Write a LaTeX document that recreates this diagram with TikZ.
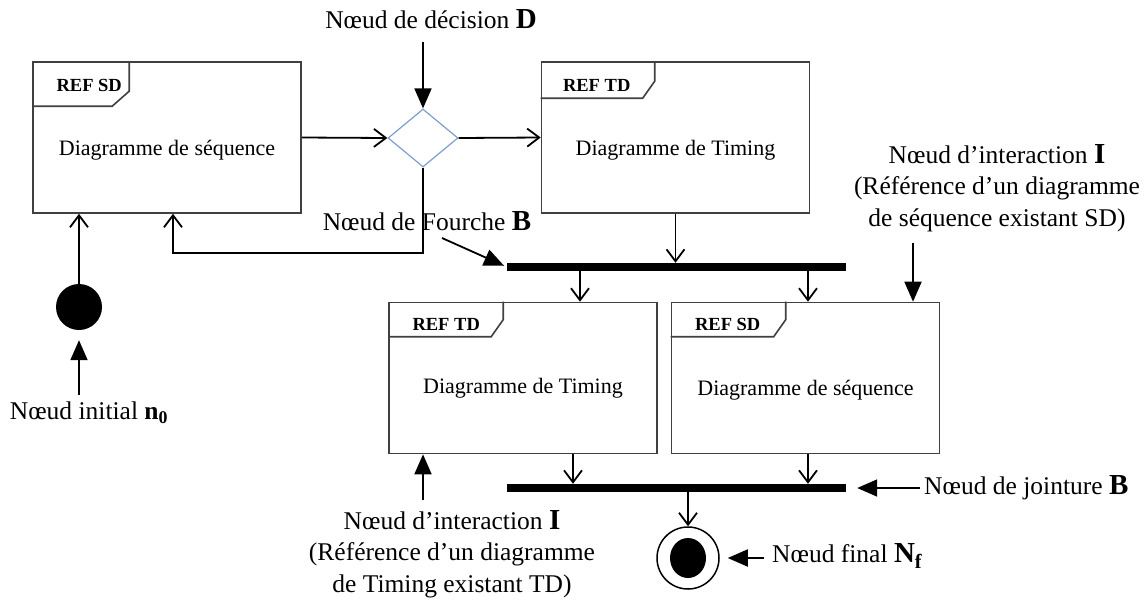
\documentclass[tikz,border=0pt]{standalone}
\usepackage{fontspec}
\setmainfont{Liberation Serif}
\usetikzlibrary{arrows.meta,shapes.geometric,calc}
\definecolor{decblue}{RGB}{125,158,205}
\newcommand\keyletter[1]{{\fontsize{29}{31}\selectfont\bfseries #1}}
\begin{document}
\begin{tikzpicture}[x=1pt,y=-1pt,
  frame/.style={draw=black!75, line width=1.6pt, fill=white, inner sep=0pt,
    minimum width=268pt, minimum height=151pt},
  tabline/.style={draw=black!75, line width=1.6pt},
  boxtext/.style={font=\fontsize{22}{26}\selectfont, inner sep=0pt},
  reftext/.style={font=\fontsize{18.5}{22}\selectfont\bfseries, inner sep=0pt},
  lbl/.style={font=\fontsize{25.5}{31.5}\selectfont, inner sep=0pt, align=center},
  flow/.style={line width=1.8pt, -{Straight Barb[length=12pt,width=18pt,line width=1.8pt]}},
  pointer/.style={line width=1.8pt, -{Triangle[length=20pt,width=17pt]}},
  bar/.style={fill=black, inner sep=0pt, minimum width=339pt, minimum height=8pt},
]
\useasboundingbox (0,0) rectangle (1145,603);

% diagram frames with their REF tabs
\node[frame] (sd1) at (167,137.5) {};
\draw[tabline] ($(sd1.north west)+(0,45)$) -- ++(80,0) -- ++(17,-15) -- ++(0,-30);
\node[reftext] (sd1ref) at ($(sd1.north west)+(57,24)$) {REF SD};
\node[boxtext] (sd1txt) at ($(sd1.center)+(0,12.5)$) {Diagramme de séquence};

\node[frame] (td1) at (675.5,137.5) {};
\draw[tabline] ($(td1.north west)+(0,37)$) -- ++(102,0) -- ++(12,-17) -- ++(0,-20);
\node[reftext] (td1ref) at ($(td1.north west)+(56,24)$) {REF TD};
\node[boxtext] (td1txt) at ($(td1.center)+(0,12.5)$) {Diagramme de Timing};

\node[frame] (td2) at (523,378) {};
\draw[tabline] ($(td2.north west)+(0,35)$) -- ++(103,0) -- ++(12,-17) -- ++(0,-18);
\node[reftext] (td2ref) at ($(td2.north west)+(58,23)$) {REF TD};
\node[boxtext] (td2txt) at ($(td2.center)+(0,10)$) {Diagramme de Timing};

\node[frame] (sd2) at (805.5,378) {};
\draw[tabline] ($(sd2.north west)+(0,35)$) -- ++(103,0) -- ++(12,-17) -- ++(0,-18);
\node[reftext] (sd2ref) at ($(sd2.north west)+(57,23)$) {REF SD};
\node[boxtext] (sd2txt) at ($(sd2.center)+(0,12)$) {Diagramme de séquence};

% control nodes
\node[diamond, draw=decblue, line width=1.2pt, minimum width=70pt, minimum height=58pt,
  inner sep=0pt] (dec) at (423,138) {};
\node[circle, fill=black, minimum size=46pt, inner sep=0pt] (init) at (79,307) {};
\node[circle, draw, line width=1.5pt, minimum size=62pt, inner sep=0pt] (fin) at (688,558) {};
\node[ellipse, fill=black, minimum width=36pt, minimum height=40pt, inner sep=0pt] (finin) at (fin) {};
\node[bar] (fork) at (676.5,267) {};
\node[bar] (join) at (676.5,488) {};

% control flow
\draw[flow] (sd1.east) -- (dec.west);
\draw[flow] (dec.east) -- (td1.west);
\coordinate (back) at (173,253);
\draw[flow] (dec.south) |- (back) -- (back |- sd1.south);
\draw[flow] (init.north) -- (init.north |- sd1.south);
\draw[flow] (td1.south) -- (td1.south |- fork.north);
\coordinate (fa) at (580,0);
\coordinate (fb) at (808,0);
\draw[flow] (fork.south -| fa) -- (td2.north -| fa);
\draw[flow] (fork.south -| fb) -- (sd2.north -| fb);
\coordinate (ja) at (573,0);
\coordinate (jb) at (808,0);
\draw[flow] (td2.south -| ja) -- (join.north -| ja);
\draw[flow] (sd2.south -| jb) -- (join.north -| jb);
\draw[flow] (join.south -| fin) -- (fin.north);

% annotations
\node[lbl] (declab) at (431,19) {Nœud de décision \keyletter{D}};
\node[lbl] (forklab) at (427,221) {Nœud de Fourche \keyletter{B}};
\node[lbl] (ilab1) at (997,188) {Nœud d’interaction \keyletter{I}\\(Référence d’un diagramme\\de séquence existant SD)};
\node[lbl] (ilab2) at (452,554) {Nœud d’interaction \keyletter{I}\\(Référence d’un diagramme\\de Timing existant TD)};
\node[lbl] (initlab) at (89,413) {Nœud initial \textbf{n\textsubscript{0}}};
\node[lbl, anchor=west] (joinlab) at (924,488) {Nœud de jointure \keyletter{B}};
\node[lbl, anchor=west] (finlab) at (772,556) {Nœud final \keyletter{N\textsubscript{f}}};

\coordinate (dtail) at (423,42);
\draw[pointer] (dtail) -- (dec.north);
\coordinate (ftail) at (442,238);
\draw[pointer, shorten >=3pt] (ftail) -- (fork.west);
\coordinate (itail) at (913,243);
\draw[pointer] (itail) -- (itail |- sd2.north);
\coordinate (i2tail) at (423,500);
\draw[pointer] (i2tail) -- (i2tail |- td2.south);
\coordinate (ntail) at (79,395);
\draw[pointer, shorten >=10pt] (ntail) -- (init.south);
\coordinate (jtail) at (920,488);
\draw[pointer, shorten >=11pt] (jtail) -- (join.east);
\coordinate (nftail) at (764,558);
\draw[pointer, shorten >=8pt] (nftail) -- (fin.east);
\end{tikzpicture}
\end{document}
